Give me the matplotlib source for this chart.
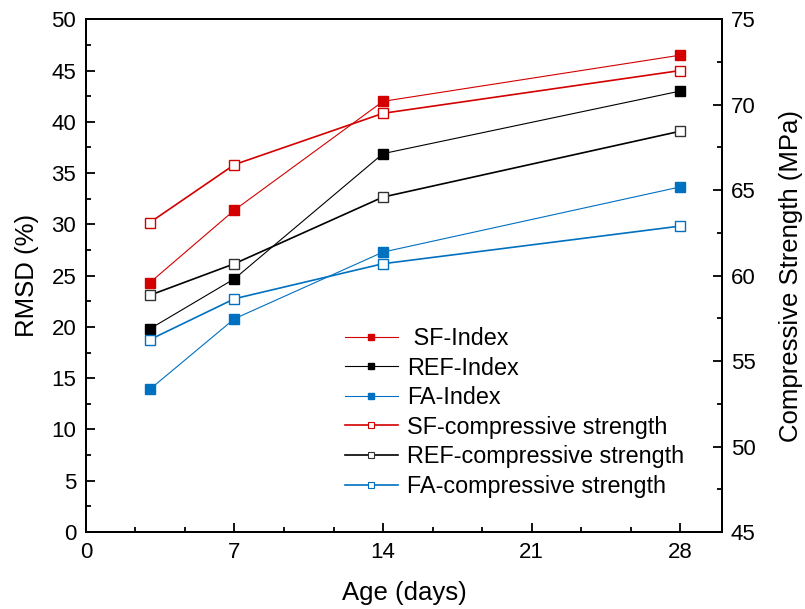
import matplotlib
matplotlib.use('Agg')
import matplotlib.pyplot as plt
from matplotlib.ticker import MultipleLocator
from matplotlib.lines import Line2D

plt.rcParams['font.family'] = ['Liberation Sans', 'DejaVu Sans']

# 재령 (days)
age = [3, 7, 14, 28]

# RMSD 지수 (%) - 왼쪽 축
sf_index = [24.3, 31.4, 42.0, 46.5]
ref_index = [19.8, 24.7, 36.9, 43.0]
fa_index = [13.9, 20.8, 27.3, 33.65]

# 압축강도 (MPa) - 오른쪽 축
sf_cs = [63.1, 66.5, 69.5, 72.0]
ref_cs = [58.85, 60.7, 64.6, 68.45]
fa_cs = [56.25, 58.65, 60.7, 62.9]

labels = [' SF-Index', 'REF-Index', 'FA-Index',
          'SF-compressive strength', 'REF-compressive strength', 'FA-compressive strength']

red = '#d40000'
blk = '#000000'
blue = '#0070c0'

fig = plt.figure(figsize=(8.05, 6.09), dpi=100)
ax = fig.add_axes([0.1068, 0.1264, 0.7907, 0.8419])
ax2 = ax.twinx()

# 지수 (채운 사각형, 얇은 선)
ax.plot(age, sf_index, '-s', color=red, lw=0.8, ms=7, mfc=red, mec=red, zorder=3)
ax.plot(age, ref_index, '-s', color=blk, lw=0.8, ms=7, mfc=blk, mec=blk, zorder=3)
ax.plot(age, fa_index, '-s', color=blue, lw=0.8, ms=7, mfc=blue, mec=blue, zorder=3)

# 압축강도 (빈 사각형, 굵은 선)
ax2.plot(age, sf_cs, '-s', color=red, lw=1.2, ms=7, mfc='white', mec=red, mew=1.0)
ax2.plot(age, ref_cs, '-s', color=blk, lw=1.2, ms=7, mfc='white', mec='#333333', mew=1.0)
ax2.plot(age, fa_cs, '-s', color=blue, lw=1.2, ms=7, mfc='white', mec=blue, mew=1.0)

ax.set_xlim(0, 30)
ax.set_ylim(0, 50)
ax2.set_ylim(45, 75)

ax.set_xticks([0, 7, 14, 21, 28])
ax.xaxis.set_minor_locator(MultipleLocator(7 / 3))
ax.yaxis.set_major_locator(MultipleLocator(5))
ax.yaxis.set_minor_locator(MultipleLocator(2.5))
ax2.yaxis.set_major_locator(MultipleLocator(5))
ax2.yaxis.set_minor_locator(MultipleLocator(2.5))

for a in (ax, ax2):
    for s in a.spines.values():
        s.set_linewidth(1.4)
    a.tick_params(which='major', direction='in', length=6.5, width=1.3, labelsize=16)
    a.tick_params(which='minor', direction='in', length=3.5, width=1.3)
ax.tick_params(axis='x', pad=7)
ax.tick_params(axis='y', pad=7)
ax2.tick_params(axis='y', pad=6)

ax.set_xlabel('Age (days)', fontsize=18.5)
ax.set_ylabel('RMSD (%)', fontsize=18.5)
ax2.set_ylabel('Compressive Strength (MPa)', fontsize=18.5)
ax.xaxis.set_label_coords(0.5, -0.119)
ax.xaxis.label.set_va('center')
ax.yaxis.set_label_coords(-0.092, 0.5)
ax.yaxis.label.set_va('center')
ax2.yaxis.set_label_coords(1.108, 0.5)
ax2.yaxis.label.set_va('center')

# 범례 (작은 마커)
handles = [
    Line2D([], [], color=red, lw=0.8, marker='s', ms=5, mfc=red, mec=red),
    Line2D([], [], color=blk, lw=0.8, marker='s', ms=5, mfc=blk, mec=blk),
    Line2D([], [], color=blue, lw=0.8, marker='s', ms=5, mfc=blue, mec=blue),
    Line2D([], [], color=red, lw=1.2, marker='s', ms=5, mfc='white', mec=red, mew=0.8),
    Line2D([], [], color=blk, lw=1.2, marker='s', ms=5, mfc='white', mec='#333333', mew=0.8),
    Line2D([], [], color=blue, lw=1.2, marker='s', ms=5, mfc='white', mec=blue, mew=0.8),
]
fig.legend(handles, labels, loc='upper left', bbox_to_anchor=(345 / 805, 1 - 327 / 609),
           frameon=False, fontsize=16.8, handlelength=2.25, handletextpad=0.4,
           labelspacing=0.28, borderaxespad=0, borderpad=0)

fig.savefig('out.png', dpi=100)
